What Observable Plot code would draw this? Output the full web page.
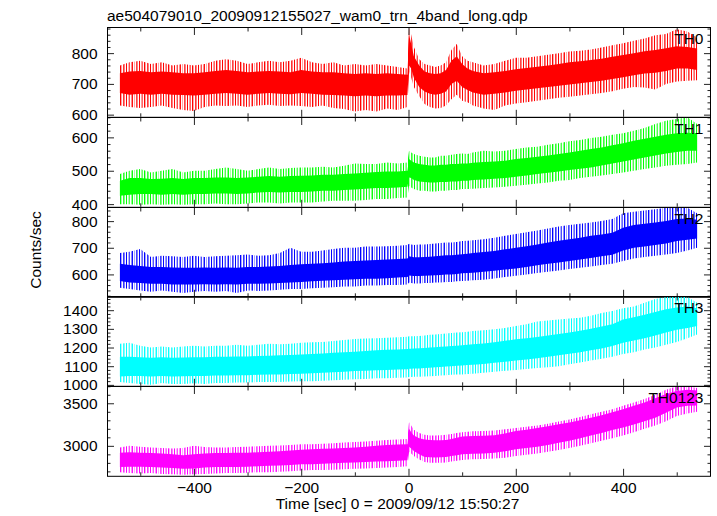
<!DOCTYPE html>
<html><head><meta charset="utf-8">
<script src="https://cdn.jsdelivr.net/npm/d3@7"></script>
<script src="https://cdn.jsdelivr.net/npm/@observablehq/plot@0.6"></script>
<style>
html,body{margin:0;padding:0;background:#fff;}
#chart{position:relative;width:717px;height:516px;overflow:hidden;}
#chart svg{position:absolute;left:0;}
</style></head><body>
<div id="chart"></div>
<script>
const FONT = '"Liberation Sans", Arial, Helvetica, sans-serif';

// time grid (sec, 0 = 2009/09/12 15:50:27)
const times = [-538,-520,-500,-480,-460,-440,-420,-400,-380,-360,-340,-320,-300,-280,-260,-240,-220,-200,-180,-160,-140,-120,-100,-80,-60,-40,-20,-2,1,5,10,20,30,40,50,60,70,80,90,100,110,120,140,160,180,200,220,240,260,280,300,320,340,360,380,400,420,440,460,480,500,520,538];

// TH0 (counts/sec): dense core band and outer extent of the fluctuations
const th0Lo = [670,665,668,665,668,665,664,662,665,668,670,668,665,668,670,668,666,670,668,665,664,662,660,662,660,662,662, 664,760,750, 720,690,675,668,665,668,675,700,710,690,680,672, 665,668,672,678,682,686,690,694,698,702,706,710,716,722,728,734,736,742,750,750, 745];
const th0Hi = [735,740,742,738,740,738,735,735,738,742,745,742,738,740,742,740,738,745,740,738,738,735,732,735,732,735,732, 730,860,830, 790,760,740,735,732,735,745,775,790,765,750,742, 735,738,742,748,752,756,760,765,770,774,778,782,788,794,800,806,810,816,822,820, 815];
const th0OutLo = [630,625,622,625,630,622,615,612,625,630,628,630,625,630,632,628,630,628,625,630,622,618,610,615,610,620,615, 625,740,720, 690,660,635,625,620,622,630,650,665,645,640,630, 620,615,630,636,640,645,650,655,658,662,666,670,676,684,690,688,682,700,708,710, 712];
const th0OutHi = [760,770,775,765,770,760,765,760,765,775,780,775,765,770,775,770,775,785,770,765,770,760,765,760,765,760,755, 750,885,860, 820,780,765,760,755,760,770,810,830,790,775,770, 760,765,775,785,785,790,795,800,805,808,812,818,826,832,840,848,858,862,878,870, 850];

// TH1
const th1Lo = [425,428,430,430,428,430,428,430,430,432,432,430,432,435,436,435,436,436,438,440,440,442,444,446,448,448,450, 452,480,478, 472,468,466,465,465,466,466,468,468,470,470,472, 474,476,478,482,486,490,494,498,502,506,510,516,522,528,534,540,546,552,556,560, 560];
const th1Hi = [470,478,478,475,476,478,475,478,478,480,480,478,480,482,484,482,484,485,486,488,488,490,492,494,496,498,498, 500,535,530, 525,520,518,516,516,518,518,520,520,522,522,524, 526,528,530,535,538,542,546,550,555,560,565,570,576,582,590,596,602,608,612,614, 612];
const th1OutLo = [400,400,398,400,398,400,398,400,400,402,400,400,402,405,405,402,405,405,405,408,410,410,410,412,415,415,418, 420,455,450, 445,440,440,438,438,440,440,442,442,445,445,446, 448,450,452,455,458,462,465,470,472,478,482,486,490,495,500,505,510,515,518,520, 525];
const th1OutHi = [490,500,505,495,500,505,495,500,500,505,510,505,500,505,510,505,508,510,510,512,510,515,522,520,520,525,522, 525,560,555, 550,545,542,540,540,545,545,548,550,552,550,555, 560,558,560,565,570,572,578,582,588,592,598,602,608,612,620,628,640,650,655,660, 640];

// TH2
const th2Lo = [575,570,568,565,565,562,562,562,563,562,563,562,565,565,566,568,570,572,574,576,578,580,582,584,584,586,588, 590,596,595, 594,594,595,596,597,598,600,600,602,604,605,606, 610,614,618,622,628,634,640,645,650,656,662,668,674,690,700,705,710,716,725,730, 735];
const th2Hi = [640,635,632,628,628,626,625,625,626,625,626,625,628,628,630,632,635,638,640,642,645,648,650,652,654,656,658, 660,668,666, 664,664,665,666,668,670,672,672,674,676,678,680, 684,688,694,700,706,712,720,726,732,738,745,750,756,775,785,790,795,800,808,810, 805];
const th2OutLo = [550,545,540,535,540,535,530,535,538,535,538,530,540,538,540,542,545,545,548,550,552,555,555,558,558,560,560, 562,570,568, 566,566,568,568,570,570,572,572,574,575,576,578, 580,585,590,595,600,605,610,615,620,625,630,635,640,650,660,665,670,675,680,690, 700];
const th2OutHi = [680,685,695,665,670,668,665,670,665,668,670,672,675,670,672,680,700,685,685,690,695,700,700,705,705,706,708, 710,715,712, 710,712,712,714,716,718,720,720,722,725,726,728, 732,738,745,752,758,765,772,780,785,790,795,800,808,830,835,840,845,850,852,850, 830];

// TH3
const th3Lo = [1045,1048,1048,1045,1048,1045,1046,1048,1048,1050,1050,1052,1052,1054,1055,1056,1058,1060,1062,1065,1068,1070,1074,1076,1078,1080,1082, 1084,1086,1086, 1087,1088,1090,1092,1094,1096,1098,1100,1102,1104,1106,1108, 1112,1118,1124,1130,1136,1142,1150,1158,1166,1175,1185,1195,1208,1225,1238,1250,1265,1280,1295,1305, 1315];
const th3Hi = [1150,1150,1148,1145,1148,1145,1146,1148,1148,1150,1150,1152,1152,1155,1156,1158,1160,1162,1165,1168,1172,1175,1178,1182,1185,1188,1190, 1192,1194,1194, 1195,1196,1198,1200,1202,1204,1206,1208,1210,1212,1215,1218, 1222,1228,1236,1244,1250,1256,1264,1272,1280,1290,1300,1312,1325,1350,1362,1375,1390,1405,1415,1420, 1410];
const th3OutLo = [1015,1010,1005,1000,1010,1005,1005,1008,1005,1010,1010,1012,1012,1015,1015,1015,1018,1020,1020,1022,1025,1028,1030,1032,1035,1036,1038, 1040,1042,1042, 1043,1044,1045,1046,1048,1050,1052,1054,1055,1056,1058,1060, 1065,1070,1075,1080,1085,1090,1095,1100,1110,1120,1130,1140,1150,1165,1175,1190,1200,1215,1230,1250, 1270];
const th3OutHi = [1220,1225,1210,1200,1205,1200,1205,1210,1205,1210,1210,1215,1210,1215,1220,1218,1220,1225,1228,1230,1235,1240,1245,1248,1250,1252,1255, 1258,1260,1260, 1260,1262,1265,1268,1270,1272,1275,1278,1280,1282,1285,1288, 1292,1298,1305,1315,1325,1340,1345,1350,1355,1360,1370,1385,1395,1410,1420,1440,1460,1470,1470,1470, 1440];

// TH0123
const th0123Lo = [2750,2755,2755,2750,2745,2740,2730,2735,2745,2750,2750,2752,2755,2760,2765,2770,2775,2785,2785,2790,2795,2800,2805,2810,2815,2820,2825, 2830,2990,2970, 2940,2900,2870,2865,2862,2865,2870,2880,2890,2900,2905,2908, 2910,2918,2935,2960,2975,2990,3010,3035,3060,3090,3120,3150,3185,3215,3250,3290,3330,3390,3450,3470, 3475];
const th0123Hi = [2920,2925,2920,2915,2910,2900,2890,2900,2910,2915,2915,2918,2920,2925,2930,2935,2945,2955,2960,2965,2970,2975,2980,2990,3000,3010,3015, 3020,3200,3160, 3120,3090,3075,3070,3065,3065,3070,3080,3095,3110,3112,3115, 3118,3125,3145,3175,3190,3210,3230,3255,3275,3300,3330,3360,3395,3430,3470,3510,3560,3610,3645,3660, 3650];
const th0123OutLo = [2690,2680,2675,2680,2670,2665,2660,2665,2670,2675,2680,2680,2685,2690,2690,2695,2700,2710,2715,2715,2720,2725,2730,2735,2740,2745,2750, 2760,2930,2910, 2880,2840,2810,2800,2800,2800,2805,2815,2825,2835,2840,2842, 2845,2850,2860,2880,2895,2910,2930,2950,2975,3000,3030,3060,3090,3120,3160,3200,3240,3290,3350,3380, 3400];
const th0123OutHi = [2980,3000,2990,2980,2975,2970,2975,3000,2985,2980,2980,2985,2990,2995,3000,3005,3010,3020,3020,3025,3030,3040,3045,3050,3060,3070,3075, 3080,3280,3240, 3190,3150,3130,3120,3120,3125,3130,3140,3150,3160,3165,3170, 3175,3180,3195,3210,3225,3240,3260,3285,3310,3340,3370,3400,3430,3470,3510,3550,3600,3660,3700,3700, 3680];

// panel names, colours, axis ranges and ticks
const names = ["TH0","TH1","TH2","TH3","TH0123"];
const colors = ["#ff0000","#00ff00","#0000ff","#00ffff","#ff00ff"];
const yDomains = [[593,885],[392,661],[516,853],[995,1476],[2648,3703]];
const yMajor = [[600,700,800],[400,500,600],[600,700,800],[1000,1100,1200,1300,1400],[3000,3500]];
const yMinorStep = [20,20,20,20,100];
const xDomain = [-562, 562];
const xMajor = [-400,-200,0,200,400];
const xMinor = [-500,-300,-100,100,300,500];
const series = [
  [th0Lo, th0Hi, th0OutLo, th0OutHi],
  [th1Lo, th1Hi, th1OutLo, th1OutHi],
  [th2Lo, th2Hi, th2OutLo, th2OutHi],
  [th3Lo, th3Hi, th3OutLo, th3OutHi],
  [th0123Lo, th0123Hi, th0123OutLo, th0123OutHi]
];

const ns = "http://www.w3.org/2000/svg";
const chart = document.getElementById("chart");
const TOP = 27, PH = 89.8, TICK = "#222";

// irregular vertical-stripe fill (style only) for the sparse spiky fringe of the curve
const STRIPES = [[0,1],[1,0.35],[3,0.8],[4,0.5],[6,1],[8,0.3],[9,0.7],[11,0.45],[12,0.95],[14,0.35],[16,0.75],[17,0.5],[19,1],[21,0.4],[22,0.6]];
const STRIPE_W = 24;
function addPattern(svg, id, color) {
  const defs = document.createElementNS(ns, "defs");
  const pat = document.createElementNS(ns, "pattern");
  pat.setAttribute("id", id);
  pat.setAttribute("patternUnits", "userSpaceOnUse");
  pat.setAttribute("width", STRIPE_W); pat.setAttribute("height", 12);
  STRIPES.forEach(([x, o]) => {
    const r = document.createElementNS(ns, "rect");
    r.setAttribute("x", x); r.setAttribute("y", 0);
    r.setAttribute("width", 1); r.setAttribute("height", 12);
    r.setAttribute("fill", color); r.setAttribute("fill-opacity", o);
    pat.appendChild(r);
  });
  defs.appendChild(pat);
  svg.insertBefore(defs, svg.firstChild);
}

names.forEach((name, i) => {
  const [lo, hi, olo, ohi] = series[i];
  const rows = times.map((t, k) => ({t, lo: lo[k], hi: hi[k], olo: olo[k], ohi: ohi[k]}));
  const [d0, d1] = yDomains[i];
  const step = yMinorStep[i];
  const minor = d3.range(Math.ceil(d0 / step) * step, d1, step).filter(v => !yMajor[i].includes(v));
  const last = i === names.length - 1;
  const mb = last ? 40 : 0;
  const pid = "spk" + i;
  const svg = Plot.plot({
    width: 717, height: PH + mb,
    marginLeft: 107, marginRight: 7, marginTop: 0, marginBottom: mb,
    style: {fontFamily: FONT, fontSize: "15.5px", color: "#000", background: "transparent", overflow: "visible"},
    x: {domain: xDomain},
    y: {domain: yDomains[i]},
    marks: [
      Plot.areaY(rows, {x: "t", y1: "olo", y2: "ohi", fill: `url(#${pid})`, clip: true}),
      Plot.areaY(rows, {x: "t", y1: "lo", y2: "hi", fill: colors[i], clip: true}),
      Plot.axisY({anchor: "left", ticks: yMajor[i], tickSize: -7, tickPadding: 17, tickFormat: d => String(d), label: null, fontSize: 15.5, stroke: TICK}),
      Plot.axisY({anchor: "left", ticks: minor, tickSize: -3.5, fill: "none", label: null, stroke: TICK}),
      Plot.axisY({anchor: "right", ticks: yMajor[i], tickSize: -7, fill: "none", label: null, stroke: TICK}),
      Plot.axisY({anchor: "right", ticks: minor, tickSize: -3.5, fill: "none", label: null, stroke: TICK}),
      Plot.axisX({anchor: "top", ticks: xMajor, tickSize: -7, fill: "none", label: null, stroke: TICK}),
      Plot.axisX({anchor: "top", ticks: xMinor, tickSize: -3.5, fill: "none", label: null, stroke: TICK}),
      last
        ? Plot.axisX({anchor: "bottom", ticks: xMajor, tickSize: -7, tickPadding: 12.5, tickFormat: d => d < 0 ? "\u2212" + Math.abs(d) : String(d), label: null, fontSize: 15.5, stroke: TICK})
        : Plot.axisX({anchor: "bottom", ticks: xMajor, tickSize: -7, fill: "none", label: null, stroke: TICK}),
      Plot.axisX({anchor: "bottom", ticks: xMinor, tickSize: -3.5, fill: "none", label: null, stroke: TICK}),
      Plot.frame({stroke: "#000", strokeWidth: 1}),
      Plot.text([name], {frameAnchor: "top-right", text: d => d, dx: -7, dy: 5.3, lineAnchor: "top", textAnchor: "end", fontSize: 15.5, fill: "#000"})
    ]
  });
  addPattern(svg, pid, colors[i]);
  svg.style.top = (TOP + i * PH) + "px";
  chart.appendChild(svg);
});

// titles and axis labels
const ov = document.createElementNS(ns, "svg");
ov.setAttribute("width", 717); ov.setAttribute("height", 516);
ov.style.top = "0px"; ov.style.pointerEvents = "none";
ov.setAttribute("font-family", FONT);
ov.setAttribute("font-size", "15.5");
function addText(str, x, y, anchor, rotate) {
  const t = document.createElementNS(ns, "text");
  t.setAttribute("x", x); t.setAttribute("y", y);
  t.setAttribute("text-anchor", anchor);
  if (rotate) t.setAttribute("transform", `rotate(-90 ${x} ${y})`);
  t.textContent = str;
  ov.appendChild(t);
}
addText("ae504079010_20090912155027_wam0_trn_4band_long.qdp", 107, 20.5, "start");
addText("Time [sec] 0 = 2009/09/12 15:50:27", 397.5, 509, "middle");
addText("Counts/sec", 41, 250, "middle", true);
chart.appendChild(ov);
</script></body></html>
